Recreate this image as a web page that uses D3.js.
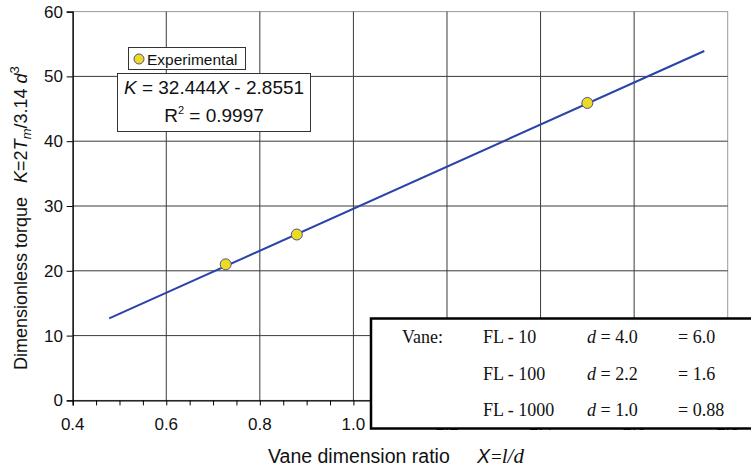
<!DOCTYPE html>
<html><head><meta charset="utf-8">
<script src="https://cdn.jsdelivr.net/npm/d3@7"></script>
<style>body{margin:0;background:#fff}svg{display:block}</style>
</head><body><svg id="c" width="751" height="469"></svg>
<script>
// ---- data ----
const xTicks = [0.4, 0.6, 0.8, 1.0, 1.2, 1.4, 1.6, 1.8];
const yTicks = [0, 10, 20, 30, 40, 50, 60];
const expX = [0.727, 0.879, 1.50];
const expK = [21.0, 25.6, 45.9];
const trendX = [0.478, 1.75];
const trendK = [12.65, 53.92];
const vanes = ["FL - 10", "FL - 100", "FL - 1000"];
const vaneD = ["4.0", "2.2", "1.0"];
const vaneRatio = ["6.0", "1.6", "0.88"];

const svg = d3.select("#c");
const L = 72.7, R = 727.7, T = 11.6, B = 400.4;
const x = d3.scaleLinear().domain([0.4, 1.8]).range([L, R]);
const y = d3.scaleLinear().domain([0, 60]).range([B, T]);
const sans = "Liberation Sans, Arial, sans-serif";
const serif = "Liberation Serif, Times New Roman, serif";

// plot frame (top/right light)
svg.append("rect").attr("x", L).attr("y", T).attr("width", R - L).attr("height", B - T)
  .attr("fill", "#fff").attr("stroke", "#9a9a9a").attr("stroke-width", 1);

// gridlines
svg.append("g").selectAll("line").data(xTicks.slice(1, -1)).join("line")
  .attr("x1", d => x(d)).attr("x2", d => x(d)).attr("y1", T).attr("y2", B)
  .attr("stroke", "#3a3a3a").attr("stroke-width", 1);
svg.append("g").selectAll("line").data(yTicks.slice(1, -1)).join("line")
  .attr("y1", d => y(d)).attr("y2", d => y(d)).attr("x1", L).attr("x2", R)
  .attr("stroke", "#3a3a3a").attr("stroke-width", 1);

// axes
const xMinor = d3.range(0.4, 1.8001, 0.05);
const xa = svg.append("g").attr("transform", `translate(0,${B})`)
  .call(d3.axisBottom(x).tickValues(xMinor).tickSize(5).tickFormat(""));
xa.select(".domain").attr("stroke", "#000").attr("stroke-width", 1.3);
xa.selectAll(".tick line").attr("stroke", "#000");
svg.append("g").selectAll("text").data(xTicks).join("text")
  .attr("x", d => x(d)).attr("y", 430).attr("text-anchor", "middle")
  .attr("font-family", sans).attr("font-size", 17).attr("fill", "#111")
  .text(d => d.toFixed(1));

const ya = svg.append("g").attr("transform", `translate(${L},0)`)
  .call(d3.axisLeft(y).tickValues(yTicks).tickSize(6).tickFormat(""));
ya.select(".domain").attr("stroke", "#000").attr("stroke-width", 1.3);
ya.selectAll(".tick line").attr("stroke", "#000");
svg.append("g").selectAll("text").data(yTicks).join("text")
  .attr("x", 63).attr("y", d => y(d) + 6).attr("text-anchor", "end")
  .attr("font-family", sans).attr("font-size", 17).attr("fill", "#111")
  .text(d => d);

// trend line
svg.append("path").datum(trendX.map((v, i) => [v, trendK[i]]))
  .attr("d", d3.line().x(d => x(d[0])).y(d => y(d[1])))
  .attr("stroke", "#2a43a8").attr("stroke-width", 2).attr("fill", "none");

// points
svg.append("g").selectAll("circle").data(expX.map((v, i) => [v, expK[i]])).join("circle")
  .attr("cx", d => x(d[0])).attr("cy", d => y(d[1])).attr("r", 5.5)
  .attr("fill", "#eadc1e").attr("stroke", "#5b4a9c").attr("stroke-width", 1);

// legend
svg.append("rect").attr("x", 128.5).attr("y", 47.5).attr("width", 117).attr("height", 22)
  .attr("fill", "#fff").attr("stroke", "#333").attr("stroke-width", 1);
svg.append("circle").attr("cx", 139).attr("cy", 59).attr("r", 5)
  .attr("fill", "#eadc1e").attr("stroke", "#5b4a9c").attr("stroke-width", 1);
svg.append("text").attr("x", 147).attr("y", 65).attr("font-family", sans)
  .attr("font-size", 15.5).attr("fill", "#111").text("Experimental");

// equation box
svg.append("rect").attr("x", 117.5).attr("y", 73.5).attr("width", 193).attr("height", 58)
  .attr("fill", "#fff").attr("stroke", "#333").attr("stroke-width", 1);
const eq = svg.append("text").attr("x", 214).attr("y", 94).attr("text-anchor", "middle")
  .attr("font-family", sans).attr("font-size", 19).attr("fill", "#111");
eq.append("tspan").attr("font-style", "italic").text("K");
eq.append("tspan").text(" = 32.444");
eq.append("tspan").attr("font-style", "italic").text("X");
eq.append("tspan").text(" - 2.8551");
const r2 = svg.append("text").attr("x", 214).attr("y", 122).attr("text-anchor", "middle")
  .attr("font-family", sans).attr("font-size", 19).attr("fill", "#111");
r2.append("tspan").text("R");
r2.append("tspan").attr("dy", -8).attr("font-size", 11).text("2");
r2.append("tspan").attr("dy", 8).text(" = 0.9997");

// axis titles
const xt = svg.append("text").attr("x", 268).attr("y", 463)
  .attr("font-family", sans).attr("font-size", 19.5).attr("fill", "#111");
xt.append("tspan").text("Vane dimension ratio");
xt.append("tspan").attr("x", 477).attr("font-style", "italic").text("X");
xt.append("tspan").attr("font-family", serif).attr("font-size", 19).attr("dx", 1).text("=");
xt.append("tspan").attr("font-family", serif).attr("font-style", "italic").attr("font-size", 21).text("l/d");

const yt = svg.append("text").attr("transform", "translate(27,370) rotate(-90)")
  .attr("font-family", sans).attr("font-size", 18).attr("fill", "#111");
yt.append("tspan").text("Dimensionless torque");
yt.append("tspan").attr("dx", 14).attr("font-style", "italic").text("K");
yt.append("tspan").text("=2");
yt.append("tspan").attr("font-style", "italic").text("T");
yt.append("tspan").attr("font-style", "italic").attr("dy", 4).attr("font-size", 13).text("m");
yt.append("tspan").attr("dy", -4).text("/3.14 ");
yt.append("tspan").attr("font-style", "italic").text("d");
yt.append("tspan").attr("dy", -8).attr("font-size", 13).text("3");

// vane table
svg.append("rect").attr("x", 371).attr("y", 318.5).attr("width", 400).attr("height", 110)
  .attr("fill", "#fff").attr("stroke", "#000").attr("stroke-width", 2.5);
svg.append("text").attr("x", 402).attr("y", 343).attr("font-family", serif)
  .attr("font-size", 18).attr("fill", "#111").text("Vane:");
const rowY = [343, 380, 416];
vanes.forEach((v, i) => {
  svg.append("text").attr("x", 483).attr("y", rowY[i]).attr("font-family", serif)
    .attr("font-size", 18).attr("fill", "#111").text(v);
  const t = svg.append("text").attr("x", 587).attr("y", rowY[i]).attr("font-family", serif)
    .attr("font-size", 18).attr("fill", "#111");
  t.append("tspan").attr("font-style", "italic").text("d");
  t.append("tspan").text(" = " + vaneD[i]);
  svg.append("text").attr("x", 678).attr("y", rowY[i]).attr("font-family", serif)
    .attr("font-size", 18).attr("fill", "#111").text("= " + vaneRatio[i]);
});
</script></body></html>
